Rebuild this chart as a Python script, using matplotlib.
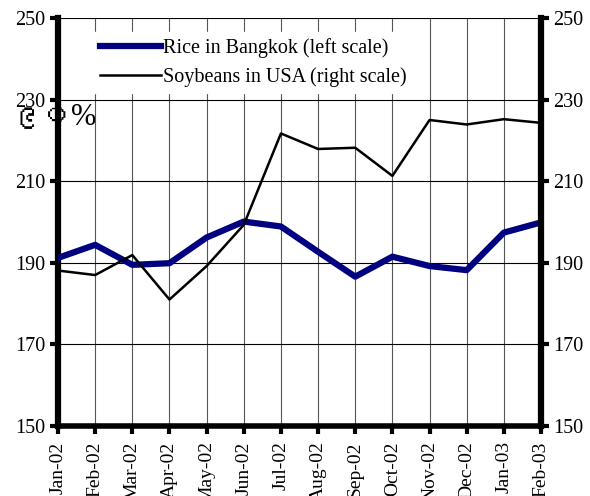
import numpy as np
import matplotlib.pyplot as plt
from matplotlib import font_manager
from matplotlib.ft2font import FT2Font

months = ["Jan-02", "Feb-02", "Mar-02", "Apr-02", "May-02", "Jun-02", "Jul-02",
          "Aug-02", "Sep-02", "Oct-02", "Nov-02", "Dec-02", "Jan-03", "Feb-03"]
rice = [191.2, 194.4, 189.5, 189.9, 196.2, 200.1, 198.9,
        192.7, 186.6, 191.5, 189.2, 188.2, 197.4, 199.9]
soy = [188.1, 187.0, 191.9, 181.0, 189.2, 199.3, 221.7,
       217.9, 218.2, 211.3, 225.0, 223.9, 225.2, 224.3]
yticks = [150, 170, 190, 210, 230, 250]
unit_label = "\u1049\u1040%"

plt.rcParams['font.family'] = ['Liberation Serif', 'DejaVu Serif']

# look for any installed font that has the Myanmar digits
myanmar_fams = []
for f in font_manager.fontManager.ttflist:
    try:
        cmap = FT2Font(f.fname).get_charmap()
    except Exception:
        continue
    if 0x1049 in cmap and 0x1040 in cmap and f.name not in myanmar_fams:
        myanmar_fams.append(f.name)

fig = plt.figure(figsize=(5.9, 4.96), dpi=100)
ax = fig.add_axes([58/590, 1-426/496, (541-58)/590, (426-18)/496])
ax2 = ax.twinx()

x = np.arange(len(months))
ax.plot(x, rice, color='#000080', lw=4.5, zorder=3,
        label='Rice in Bangkok (left scale)')
ax2.plot(x, soy, color='black', lw=1.8, zorder=3,
         label='Soybeans in USA (right scale)')

for a in (ax, ax2):
    a.set_ylim(150, 250)
    a.set_yticks(yticks)
    a.set_xlim(0, len(months) - 1)
    for s in a.spines.values():
        s.set_visible(False)
ax.set_xticks(x)
ax.set_xticklabels(months, rotation=90, fontsize=14)
ax.tick_params(axis='x', length=6, width=3, pad=5)
ax.tick_params(axis='y', length=6, width=3, labelsize=14.5, pad=3)
ax2.tick_params(axis='y', length=6, width=3, labelsize=14.5, pad=3)

ax.grid(True, color='black', lw=0.8)
ax.xaxis.grid(True, color='#555555', lw=0.8)
ax.spines['left'].set_visible(True)
ax.spines['left'].set_linewidth(4.5)
ax.spines['bottom'].set_visible(True)
ax.spines['bottom'].set_linewidth(4)
ax2.spines['right'].set_visible(True)
ax2.spines['right'].set_linewidth(4.5)

h1, l1 = ax.get_legend_handles_labels()
h2, l2 = ax2.get_legend_handles_labels()
leg = ax2.legend(h1 + h2, l1 + l2, loc='upper left', bbox_to_anchor=(0.075, 0.965),
                 borderaxespad=0, frameon=True, fancybox=False, edgecolor='white',
                 facecolor='white', framealpha=1, fontsize=14.5, handlelength=3.0,
                 handletextpad=0.1, labelspacing=0.45, borderpad=0.3)
leg.set_zorder(5)

if myanmar_fams:
    fig.text(10/590, 1-117/496, unit_label, fontsize=22, va='center', ha='left',
             family=['Liberation Serif'] + myanmar_fams[:1], zorder=-1)
else:
    # no installed font has these glyphs; keep the legible part
    fig.text(42/590, 1-116/496, "%", fontsize=15, va='center', ha='left')
ax.set_facecolor('none')
ax2.set_facecolor('none')

fig.savefig("out.png", dpi=100)
